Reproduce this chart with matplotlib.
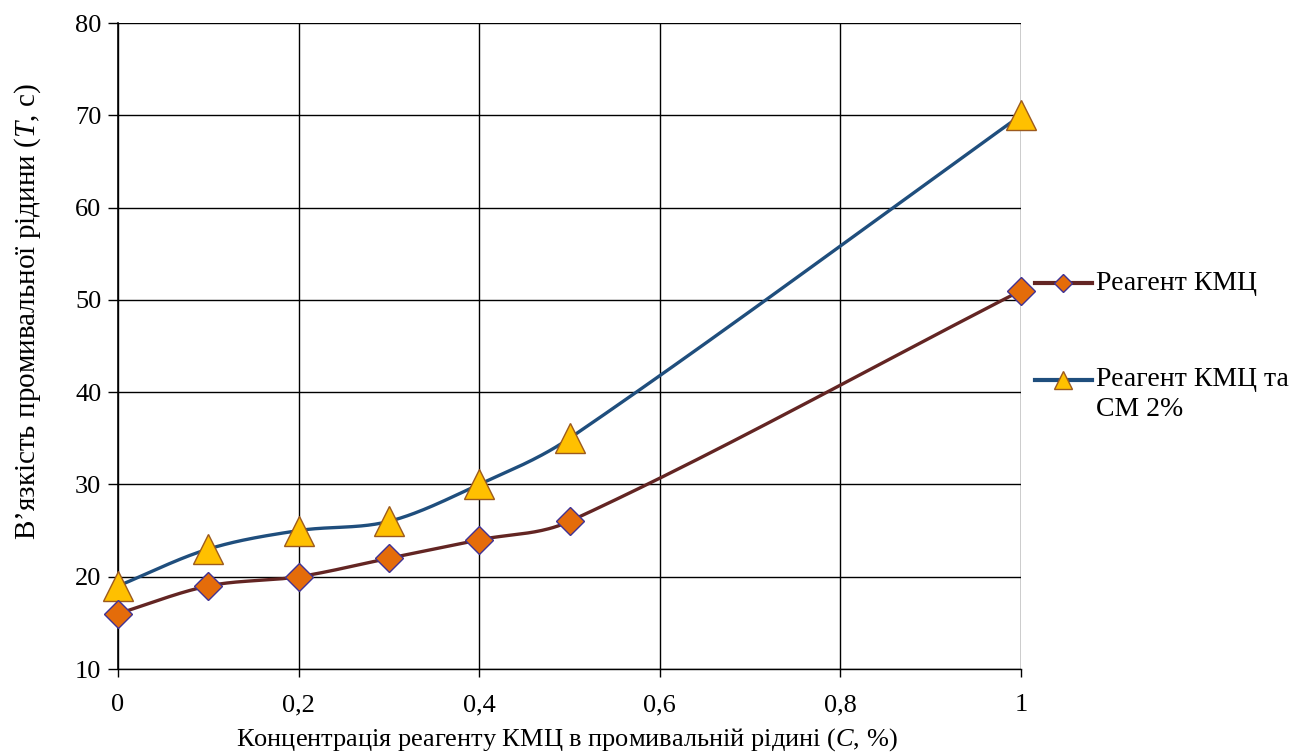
import numpy as np
import matplotlib

matplotlib.use("Agg")
import matplotlib.pyplot as plt
from matplotlib.lines import Line2D

plt.rcParams["mathtext.fontset"] = "custom"
plt.rcParams["mathtext.it"] = "Liberation Serif:italic"
plt.rcParams["mathtext.rm"] = "Liberation Serif"

concentration = [0, 0.1, 0.2, 0.3, 0.4, 0.5, 1.0]
viscosity_kmc = [16, 19, 20, 22, 24, 26, 51]
viscosity_kmc_sm = [19, 23, 25, 26, 30, 35, 70]

label_kmc = "Реагент КМЦ"
label_kmc_sm = ["Реагент КМЦ та", "СМ 2%"]
x_ticks = [0, 0.2, 0.4, 0.6, 0.8, 1.0]
x_tick_labels = ["0", "0,2", "0,4", "0,6", "0,8", "1"]
y_ticks = [10, 20, 30, 40, 50, 60, 70, 80]


def smooth_curve(xs, ys, steps=40):
    # smoothed line like Excel's: cubic Bezier, tangents scaled by x spacing
    xs = np.asarray(xs, float)
    ys = np.asarray(ys, float)
    pts = np.column_stack([xs, ys])
    n = len(pts)
    tang = np.zeros_like(pts)
    for i in range(n):
        lo, hi = max(i - 1, 0), min(i + 1, n - 1)
        tang[i] = (pts[hi] - pts[lo]) / (xs[hi] - xs[lo])
    out = []
    t = np.linspace(0, 1, steps)[:, None]
    for i in range(n - 1):
        dx = xs[i + 1] - xs[i]
        p0, p3 = pts[i], pts[i + 1]
        c1 = p0 + tang[i] * dx / 3.0
        c2 = p3 - tang[i + 1] * dx / 3.0
        seg = (1 - t) ** 3 * p0 + 3 * (1 - t) ** 2 * t * c1 + 3 * (1 - t) * t ** 2 * c2 + t ** 3 * p3
        out.append(seg if i == 0 else seg[1:])
    curve = np.vstack(out)
    return curve[:, 0], curve[:, 1]


kmc_style = dict(line="#632523", face="#E46C0A", edge="#403294", marker="D", size=14)
sm_style = dict(line="#1F4E7D", face="#FFC000", edge="#9C5A1E", marker="^", size=21)

fig = plt.figure(figsize=(12.93, 7.55), dpi=100)
ax = fig.add_axes([0.0913, 0.1139, 0.6983, 0.8556])

for xs, ys, st in [(concentration, viscosity_kmc_sm, sm_style), (concentration, viscosity_kmc, kmc_style)]:
    cx, cy = smooth_curve(xs, ys)
    ax.plot(cx, cy, color=st["line"], lw=2.4, zorder=3, clip_on=False)
    ax.plot(xs, ys, ls="none", marker=st["marker"], ms=st["size"], mfc=st["face"],
            mec=st["edge"], mew=1.0, zorder=4, clip_on=False)

ax.set_xlim(0, 1)
ax.set_ylim(10, 80)
ax.set_xticks(x_ticks)
ax.set_xticklabels(x_tick_labels, fontfamily="Liberation Serif", fontsize=19)
ax.set_yticks(y_ticks)
ax.set_yticklabels([str(v) for v in y_ticks], fontfamily="Liberation Serif", fontsize=19)
ax.grid(True, color="black", lw=1.0)
ax.tick_params(axis="y", direction="out", length=7, width=1.0, pad=5)
ax.tick_params(axis="x", direction="out", length=6, width=1.0, pad=12)
for side in ["top", "right"]:
    ax.spines[side].set_visible(False)
ax.spines["left"].set_linewidth(1.2)
ax.spines["bottom"].set_linewidth(1.0)

ax.set_xlabel("Концентрація реагенту КМЦ в промивальній рідині ($\\it{C}$, %)",
              fontfamily="Liberation Serif", fontsize=19)
ax.xaxis.set_label_coords(0.497, -0.088)
ax.set_ylabel("В’язкість промивальної рідини ($\\it{T}$, с)",
              fontfamily="Liberation Serif", fontsize=21, va="center")
ax.yaxis.set_label_coords(-0.0997, 0.553)

# legend drawn by hand so the handle lines up with the first text line
W, H = 1293.0, 755.0
legend_rows = [(283, kmc_style, [label_kmc]), (380, sm_style, label_kmc_sm)]
for ypx, st, lines in legend_rows:
    yf = 1 - ypx / H
    fig.add_artist(Line2D([1035 / W, 1092 / W], [yf, yf], color=st["line"], lw=3.0))
    fig.add_artist(Line2D([1063 / W], [yf], marker=st["marker"], ms=st["size"] * 0.62,
                          mfc=st["face"], mec=st["edge"], mew=1.0, ls="none"))
    for k, text in enumerate(lines):
        fig.text(1096 / W, 1 - (ypx + 30 * k) / H, text, fontfamily="Liberation Serif",
                 fontsize=20, va="center", ha="left")

fig.savefig("out.png", dpi=100)
